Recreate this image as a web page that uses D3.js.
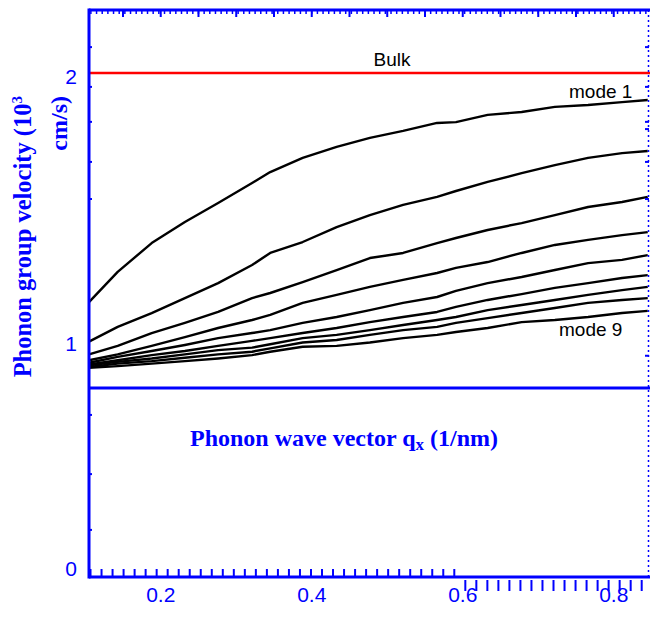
<!DOCTYPE html>
<html>
<head>
<meta charset="utf-8">
<script src="https://cdn.jsdelivr.net/npm/d3@7"></script>
<style>
  html, body { margin: 0; padding: 0; background: #fff; }
  svg { display: block; }
</style>
</head>
<body>
<svg id="chart" width="650" height="622"></svg>
<script>
// ---------- data ----------
const qx = [0.105, 0.143, 0.188, 0.232, 0.276, 0.321, 0.345, 0.388, 0.433, 0.477, 0.521, 0.566, 0.591, 0.633, 0.678, 0.722, 0.766, 0.811, 0.845];
const mode1 = [1.142, 1.255, 1.363, 1.442, 1.513, 1.588, 1.629, 1.682, 1.723, 1.757, 1.783, 1.813, 1.816, 1.843, 1.854, 1.873, 1.880, 1.891, 1.899];
const mode2 = [0.993, 1.049, 1.101, 1.157, 1.213, 1.281, 1.326, 1.367, 1.423, 1.468, 1.506, 1.536, 1.558, 1.592, 1.625, 1.655, 1.682, 1.700, 1.708];
const mode3 = [0.936, 0.974, 1.026, 1.064, 1.105, 1.157, 1.176, 1.217, 1.262, 1.307, 1.326, 1.363, 1.382, 1.412, 1.438, 1.468, 1.498, 1.517, 1.536];
const mode4 = [0.910, 0.936, 0.974, 1.011, 1.045, 1.075, 1.094, 1.139, 1.169, 1.199, 1.225, 1.251, 1.270, 1.292, 1.326, 1.356, 1.375, 1.393, 1.404];
const mode5 = [0.899, 0.925, 0.951, 0.978, 1.007, 1.026, 1.037, 1.064, 1.086, 1.112, 1.139, 1.161, 1.184, 1.213, 1.236, 1.262, 1.288, 1.300, 1.318];
const mode6 = [0.891, 0.910, 0.933, 0.951, 0.974, 0.996, 1.007, 1.026, 1.045, 1.067, 1.086, 1.105, 1.124, 1.150, 1.172, 1.195, 1.213, 1.232, 1.243];
const mode7 = [0.888, 0.903, 0.918, 0.936, 0.955, 0.966, 0.981, 1.007, 1.019, 1.037, 1.056, 1.075, 1.086, 1.112, 1.131, 1.150, 1.169, 1.187, 1.199];
const mode8 = [0.880, 0.895, 0.906, 0.921, 0.936, 0.948, 0.963, 0.989, 1.000, 1.019, 1.037, 1.049, 1.064, 1.082, 1.101, 1.120, 1.139, 1.150, 1.157];
const mode9 = [0.876, 0.884, 0.895, 0.906, 0.918, 0.933, 0.948, 0.970, 0.974, 0.989, 1.007, 1.019, 1.030, 1.045, 1.067, 1.075, 1.086, 1.101, 1.109];
const modes = [mode1, mode2, mode3, mode4, mode5, mode6, mode7, mode8, mode9];

const bulkVelocity = 2.0;
const baselineValue = 0.787;

const xTickValues = [0.2, 0.4, 0.6, 0.8];
const xTickLabels = ["0.2", "0.4", "0.6", "0.8"];
const yTickValues = [0, 1, 2];
const yTickLabels = ["0", "1", "2"];
const leftMinorTicks = [0.156, 0.404, 0.667, 1.528, 1.667, 1.817, 1.948, 2.097];
const rightMinorTicks = [0.93, 1.528, 1.667, 1.79, 1.817, 1.948, 2.097];
const bottomMinorTicks = d3.range(0.107, 0.85, 0.0146);
const topMinorTicks = d3.range(0.1075, 0.85, 0.0075);
const topMajorTicks = d3.range(0.15, 0.85, 0.05);

// ---------- scales ----------
const x = d3.scaleLinear().domain([0.105, 0.848]).range([89, 650]);
const y = d3.scaleLinear().domain([0, 1, 2.236]).range([565, 340, 10]);

const svg = d3.select("#chart");
const blue = "#0000ff";
const sans = "'Liberation Sans', Arial, Helvetica, sans-serif";
const serif = "'Liberation Serif', 'Times New Roman', Times, serif";

const xL = x.range()[0], xR = x.range()[1];
const yTop = 10, yBot = 577;

// ---------- curves ----------
const line = d3.line().x(d => x(d[0])).y(d => y(d[1]));
svg.append("g").selectAll("path")
  .data(modes)
  .join("path")
  .attr("d", m => line(m.map((v, i) => [qx[i], v])))
  .attr("fill", "none")
  .attr("stroke", "#000")
  .attr("stroke-width", 2.4)
  .attr("stroke-linejoin", "round");

// bulk line
svg.append("line")
  .attr("x1", xL).attr("x2", xR)
  .attr("y1", y(bulkVelocity)).attr("y2", y(bulkVelocity))
  .attr("stroke", "#ff0000").attr("stroke-width", 2.5);

// middle blue baseline
svg.append("line")
  .attr("x1", xL).attr("x2", xR)
  .attr("y1", y(baselineValue)).attr("y2", y(baselineValue))
  .attr("stroke", blue).attr("stroke-width", 3);

// ---------- frame ----------
svg.append("line").attr("x1", xL).attr("x2", xL).attr("y1", yTop - 1.5).attr("y2", yBot + 1.5)
  .attr("stroke", blue).attr("stroke-width", 3);
svg.append("line").attr("x1", xL).attr("x2", xR).attr("y1", yTop).attr("y2", yTop)
  .attr("stroke", blue).attr("stroke-width", 3);
svg.append("line").attr("x1", xL).attr("x2", xR).attr("y1", yBot).attr("y2", yBot)
  .attr("stroke", blue).attr("stroke-width", 3);
svg.append("line").attr("x1", 648.5).attr("x2", 648.5).attr("y1", yTop).attr("y2", yBot)
  .attr("stroke", blue).attr("stroke-width", 1.5).attr("stroke-dasharray", "2,3");

// top ticks
svg.append("g").selectAll("line").data(topMinorTicks).join("line")
  .attr("x1", d => x(d)).attr("x2", d => x(d))
  .attr("y1", yTop).attr("y2", yTop + 4)
  .attr("stroke", blue).attr("stroke-width", 1.5);
svg.append("g").selectAll("line").data(topMajorTicks).join("line")
  .attr("x1", d => x(d)).attr("x2", d => x(d))
  .attr("y1", yTop).attr("y2", yTop + 7)
  .attr("stroke", blue).attr("stroke-width", 2);

// bottom ticks: left part upward, right part downward
svg.append("g").selectAll("line").data(bottomMinorTicks.filter(d => x(d) < 459)).join("line")
  .attr("x1", d => x(d)).attr("x2", d => x(d))
  .attr("y1", yBot).attr("y2", yBot - 8)
  .attr("stroke", blue).attr("stroke-width", 2);
svg.append("g").selectAll("line").data(bottomMinorTicks.filter(d => x(d) >= 459)).join("line")
  .attr("x1", d => x(d)).attr("x2", d => x(d))
  .attr("y1", yBot + 3).attr("y2", yBot + 14)
  .attr("stroke", blue).attr("stroke-width", 2);

// left & right minor ticks
svg.append("g").selectAll("line").data(leftMinorTicks).join("line")
  .attr("x1", xL).attr("x2", xL + 3)
  .attr("y1", d => y(d)).attr("y2", d => y(d))
  .attr("stroke", blue).attr("stroke-width", 2);
svg.append("g").selectAll("line").data(rightMinorTicks).join("line")
  .attr("x1", 645).attr("x2", 649)
  .attr("y1", d => y(d)).attr("y2", d => y(d))
  .attr("stroke", blue).attr("stroke-width", 2);

// ---------- tick labels ----------
svg.append("g").selectAll("text").data(xTickValues).join("text")
  .attr("x", d => x(d)).attr("y", 602)
  .attr("text-anchor", "middle")
  .attr("font-family", sans).attr("font-size", 21)
  .attr("fill", blue)
  .text((d, i) => xTickLabels[i]);

svg.append("g").selectAll("text").data(yTickValues).join("text")
  .attr("x", 77).attr("y", d => y(d) + 3)
  .attr("dy", "0.36em")
  .attr("text-anchor", "end")
  .attr("font-family", sans).attr("font-size", 21)
  .attr("fill", blue)
  .text((d, i) => yTickLabels[i]);

// ---------- annotations ----------
svg.append("text").attr("x", 392).attr("y", 66)
  .attr("text-anchor", "middle").attr("font-family", sans).attr("font-size", 19)
  .attr("fill", "#000").text("Bulk");
svg.append("text").attr("x", 569).attr("y", 98)
  .attr("font-family", sans).attr("font-size", 19)
  .attr("fill", "#000").text("mode 1");
svg.append("text").attr("x", 559).attr("y", 336)
  .attr("font-family", sans).attr("font-size", 19)
  .attr("fill", "#000").text("mode 9");

// ---------- axis titles ----------
const xt = svg.append("text").attr("x", 344).attr("y", 446)
  .attr("text-anchor", "middle").attr("font-family", serif).attr("font-weight", "bold")
  .attr("font-size", 24).attr("fill", blue);
xt.append("tspan").text("Phonon wave vector q");
xt.append("tspan").attr("font-size", 17).attr("dy", 4).text("x");
xt.append("tspan").attr("dy", -4).text(" (1/nm)");

const yt1 = svg.append("text").attr("transform", "translate(31,96) rotate(-90)")
  .attr("text-anchor", "end").attr("font-family", serif).attr("font-weight", "bold")
  .attr("font-size", 24.5).attr("fill", blue);
yt1.append("tspan").text("Phonon group velocity (10");
yt1.append("tspan").attr("font-size", 15).attr("dy", -9).text("3");

svg.append("text").attr("transform", "translate(67,96) rotate(-90)")
  .attr("text-anchor", "end").attr("font-family", serif).attr("font-weight", "bold")
  .attr("font-size", 24).attr("fill", blue)
  .text("cm/s)");
</script>
</body>
</html>
